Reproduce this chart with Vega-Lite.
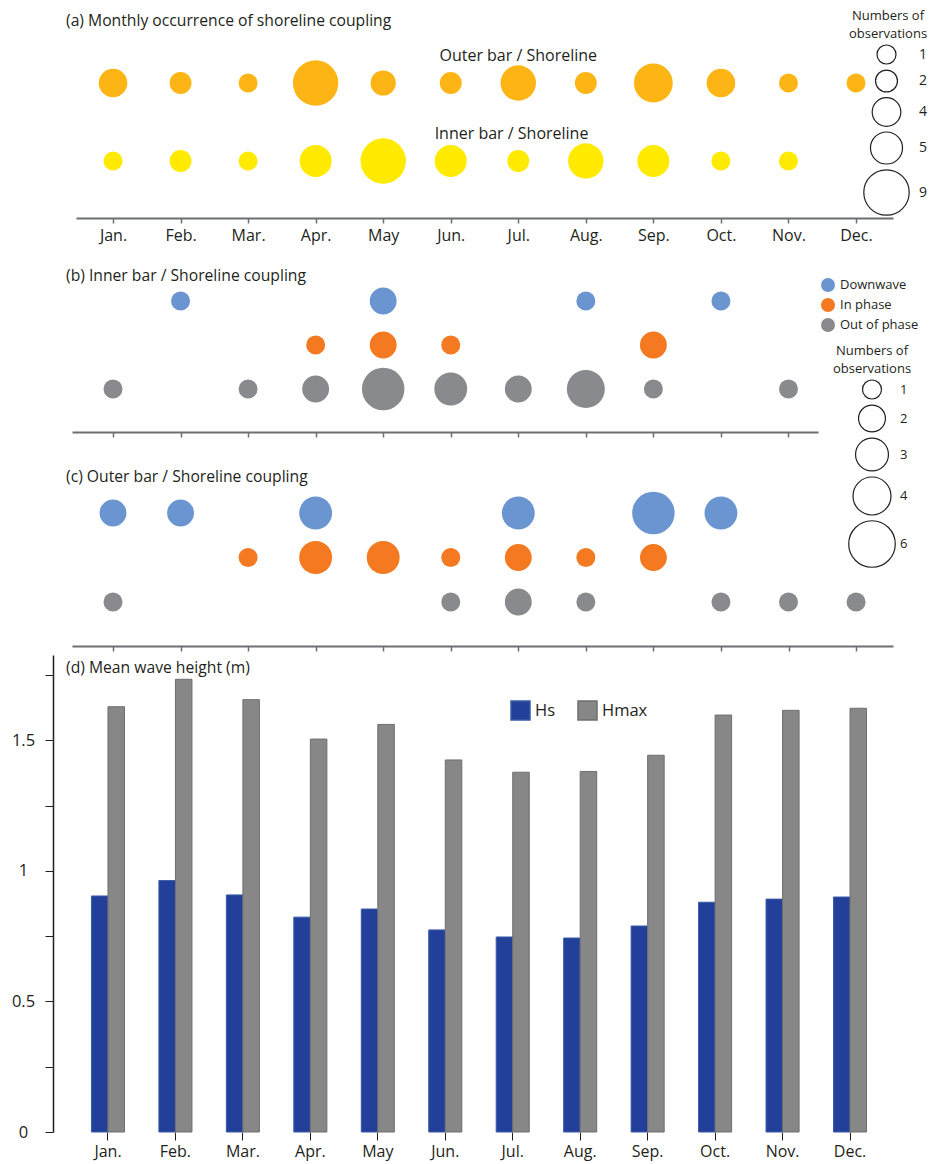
{
  "$schema": "https://vega.github.io/schema/vega-lite/v6.json",
  "padding": {"left": 11, "top": 10, "right": 5, "bottom": 5},
  "background": "white",
  "bounds": "flush",
  "spacing": 0,
  "resolve": {"scale": {"color": "independent", "size": "independent", "stroke": "independent", "x": "independent", "y": "independent"}},
  "config": {
    "view": {"stroke": null},
    "font": "Open Sans",
    "axis": {"grid": false, "labelFont": "Open Sans", "labelColor": "#231f20", "labelFontSize": 16, "domainColor": "#6d6e71", "tickColor": "#6d6e71"},
    "title": {"font": "Open Sans", "fontSize": 15.7, "fontWeight": "normal", "color": "#231f20", "anchor": "start", "frame": "group", "baseline": "middle", "offset": 0},
    "legend": {"labelFont": "Open Sans", "titleFont": "Open Sans", "labelFontSize": 13, "titleFontSize": 13, "titleLineHeight": 18, "titleFontWeight": "normal", "labelColor": "#231f20", "titleColor": "#231f20", "padding": 0}
  },
  "datasets": {
    "occurrence": [
      {"row": "Outer", "m": 1, "month": "Jan.", "n": 4},
      {"row": "Outer", "m": 2, "month": "Feb.", "n": 2},
      {"row": "Outer", "m": 3, "month": "Mar.", "n": 1},
      {"row": "Outer", "m": 4, "month": "Apr.", "n": 9},
      {"row": "Outer", "m": 5, "month": "May", "n": 3},
      {"row": "Outer", "m": 6, "month": "Jun.", "n": 2},
      {"row": "Outer", "m": 7, "month": "Jul.", "n": 6},
      {"row": "Outer", "m": 8, "month": "Aug.", "n": 2},
      {"row": "Outer", "m": 9, "month": "Sep.", "n": 7},
      {"row": "Outer", "m": 10, "month": "Oct.", "n": 4},
      {"row": "Outer", "m": 11, "month": "Nov.", "n": 1},
      {"row": "Outer", "m": 12, "month": "Dec.", "n": 1},
      {"row": "Inner", "m": 1, "month": "Jan.", "n": 1},
      {"row": "Inner", "m": 2, "month": "Feb.", "n": 2},
      {"row": "Inner", "m": 3, "month": "Mar.", "n": 1},
      {"row": "Inner", "m": 4, "month": "Apr.", "n": 5},
      {"row": "Inner", "m": 5, "month": "May", "n": 9},
      {"row": "Inner", "m": 6, "month": "Jun.", "n": 5},
      {"row": "Inner", "m": 7, "month": "Jul.", "n": 2},
      {"row": "Inner", "m": 8, "month": "Aug.", "n": 6},
      {"row": "Inner", "m": 9, "month": "Sep.", "n": 5},
      {"row": "Inner", "m": 10, "month": "Oct.", "n": 1},
      {"row": "Inner", "m": 11, "month": "Nov.", "n": 1}
    ],
    "rowlabels": [
      {"row": "Outer", "m": 7, "label": "Outer bar / Shoreline"},
      {"row": "Inner", "m": 6.9, "label": "Inner bar / Shoreline"}
    ],
    "inner": [
      {"type": "Downwave", "m": 2, "n": 1},
      {"type": "Downwave", "m": 5, "n": 2},
      {"type": "Downwave", "m": 8, "n": 1},
      {"type": "Downwave", "m": 10, "n": 1},
      {"type": "In phase", "m": 4, "n": 1},
      {"type": "In phase", "m": 5, "n": 2},
      {"type": "In phase", "m": 6, "n": 1},
      {"type": "In phase", "m": 9, "n": 2},
      {"type": "Out of phase", "m": 1, "n": 1},
      {"type": "Out of phase", "m": 3, "n": 1},
      {"type": "Out of phase", "m": 4, "n": 2},
      {"type": "Out of phase", "m": 5, "n": 5},
      {"type": "Out of phase", "m": 6, "n": 3},
      {"type": "Out of phase", "m": 7, "n": 2},
      {"type": "Out of phase", "m": 8, "n": 4},
      {"type": "Out of phase", "m": 9, "n": 1},
      {"type": "Out of phase", "m": 11, "n": 1}
    ],
    "outer": [
      {"type": "Downwave", "m": 1, "n": 2},
      {"type": "Downwave", "m": 2, "n": 2},
      {"type": "Downwave", "m": 4, "n": 3},
      {"type": "Downwave", "m": 7, "n": 3},
      {"type": "Downwave", "m": 9, "n": 5},
      {"type": "Downwave", "m": 10, "n": 3},
      {"type": "In phase", "m": 3, "n": 1},
      {"type": "In phase", "m": 4, "n": 3},
      {"type": "In phase", "m": 5, "n": 3},
      {"type": "In phase", "m": 6, "n": 1},
      {"type": "In phase", "m": 7, "n": 2},
      {"type": "In phase", "m": 8, "n": 1},
      {"type": "In phase", "m": 9, "n": 2},
      {"type": "Out of phase", "m": 1, "n": 1},
      {"type": "Out of phase", "m": 6, "n": 1},
      {"type": "Out of phase", "m": 7, "n": 2},
      {"type": "Out of phase", "m": 8, "n": 1},
      {"type": "Out of phase", "m": 10, "n": 1},
      {"type": "Out of phase", "m": 11, "n": 1},
      {"type": "Out of phase", "m": 12, "n": 1}
    ],
    "waves": [
      {"month": "Jan.", "series": "Hs", "value": 0.904},
      {"month": "Feb.", "series": "Hs", "value": 0.963},
      {"month": "Mar.", "series": "Hs", "value": 0.908},
      {"month": "Apr.", "series": "Hs", "value": 0.823},
      {"month": "May", "series": "Hs", "value": 0.854},
      {"month": "Jun.", "series": "Hs", "value": 0.774},
      {"month": "Jul.", "series": "Hs", "value": 0.747},
      {"month": "Aug.", "series": "Hs", "value": 0.743},
      {"month": "Sep.", "series": "Hs", "value": 0.789},
      {"month": "Oct.", "series": "Hs", "value": 0.88},
      {"month": "Nov.", "series": "Hs", "value": 0.892},
      {"month": "Dec.", "series": "Hs", "value": 0.9},
      {"month": "Jan.", "series": "Hmax", "value": 1.629},
      {"month": "Feb.", "series": "Hmax", "value": 1.734},
      {"month": "Mar.", "series": "Hmax", "value": 1.656},
      {"month": "Apr.", "series": "Hmax", "value": 1.505},
      {"month": "May", "series": "Hmax", "value": 1.561},
      {"month": "Jun.", "series": "Hmax", "value": 1.425},
      {"month": "Jul.", "series": "Hmax", "value": 1.378},
      {"month": "Aug.", "series": "Hmax", "value": 1.381},
      {"month": "Sep.", "series": "Hmax", "value": 1.443},
      {"month": "Oct.", "series": "Hmax", "value": 1.597},
      {"month": "Nov.", "series": "Hmax", "value": 1.615},
      {"month": "Dec.", "series": "Hmax", "value": 1.623}
    ]
  },
  "vconcat": [
    {
      "width": 852,
      "height": 208,
      "title": {"text": "(a) Monthly occurrence of shoreline coupling", "dx": 13, "dy": 24},
      "layer": [
        {
          "data": {"name": "occurrence"},
          "mark": {"type": "circle", "opacity": 1},
          "encoding": {
            "x": {"field": "m", "type": "quantitative",
              "scale": {"domain": [0.452, 12.548], "range": [23, 840], "zero": false, "nice": false},
              "axis": {"values": [1,2,3,4,5,6,7,8,9,10,11,12], "labelExpr": "['Jan.','Feb.','Mar.','Apr.','May','Jun.','Jul.','Aug.','Sep.','Oct.','Nov.','Dec.'][datum.value - 1]", "title": null, "domainWidth": 2, "tickWidth": 1.5, "tickSize": 5, "labelPadding": 4}},
            "y": {"field": "row", "type": "nominal", "scale": {"type": "point", "domain": ["Outer", "Inner"], "range": [73, 151], "padding": 0}, "axis": null},
            "color": {"field": "row", "type": "nominal", "scale": {"domain": ["Outer", "Inner"], "range": ["#FDB515", "#FFEA00"]}, "legend": null},
            "size": {"field": "n", "type": "quantitative",
              "scale": {"type": "pow", "exponent": 1.5, "domain": [1, 9], "range": [361, 2061], "zero": false},
              "legend": {"title": ["Numbers of", "observations"], "orient": "none", "legendX": 795, "legendY": 0, "values": [1, 2, 4, 5, 9], "symbolFillColor": "transparent", "symbolStrokeColor": "#231f20", "symbolStrokeWidth": 1.2, "rowPadding": 0, "labelOffset": 9, "symbolOffset": 15, "titleAnchor": "middle", "titleAlign": "center", "titlePadding": 3, "labelFontSize": 14}}
          }
        },
        {
          "data": {"name": "rowlabels"},
          "mark": {"type": "text", "dy": -27, "fontSize": 16, "color": "#231f20"},
          "encoding": {
            "x": {"field": "m", "type": "quantitative",
              "axis": {"values": [1,2,3,4,5,6,7,8,9,10,11,12], "labelExpr": "['Jan.','Feb.','Mar.','Apr.','May','Jun.','Jul.','Aug.','Sep.','Oct.','Nov.','Dec.'][datum.value - 1]", "title": null, "domainWidth": 2, "tickWidth": 1.5, "tickSize": 5, "labelPadding": 4}},
            "y": {"field": "row", "type": "nominal", "axis": null},
            "text": {"field": "label"}
          }
        }
      ]
    },
    {
      "width": 852,
      "height": 214,
      "title": {"text": "(b) Inner bar / Shoreline coupling", "dx": 13, "dy": 71},
      "data": {"name": "inner"},
      "mark": {"type": "circle", "opacity": 1},
      "encoding": {
        "x": {"field": "m", "type": "quantitative",
          "scale": {"domain": [0.393, 11.437], "range": [19, 765], "zero": false, "nice": false},
          "axis": {"values": [1,2,3,4,5,6,7,8,9,10,11], "labels": false, "title": null, "domainWidth": 2, "tickWidth": 1.5, "tickSize": 5}},
        "y": {"field": "type", "type": "nominal", "scale": {"type": "point", "domain": ["Downwave", "In phase", "Out of phase"], "range": [83, 171], "padding": 0}, "axis": null},
        "color": {"field": "type", "type": "nominal",
          "scale": {"domain": ["Downwave", "In phase", "Out of phase"], "range": ["#6A95D0", "#F47920", "#898A8D"]},
          "legend": {"title": null, "orient": "none", "legendX": 767, "legendY": 59, "symbolType": "circle", "symbolSize": 196, "rowPadding": 5, "labelOffset": 4}},
        "size": {"field": "n", "type": "quantitative",
          "scale": {"domain": [0, 6], "range": [0, 2166]},
          "legend": {"title": ["Numbers of", "observations"], "orient": "none", "legendX": 780, "legendY": 127, "values": [1, 2, 3, 4, 6], "symbolFillColor": "transparent", "symbolStrokeColor": "#231f20", "symbolStrokeWidth": 1.2, "rowPadding": 0, "labelOffset": 4, "symbolOffset": 12, "titleAnchor": "middle", "titleAlign": "center", "titlePadding": 3}}
      }
    },
    {
      "width": 852,
      "height": 214,
      "title": {"text": "(c) Outer bar / Shoreline coupling", "dx": 13, "dy": 58},
      "data": {"name": "outer"},
      "mark": {"type": "circle", "opacity": 1},
      "encoding": {
        "x": {"field": "m", "type": "quantitative",
          "scale": {"domain": [0.393, 12.547], "range": [19, 840], "zero": false, "nice": false},
          "axis": {"values": [1,2,3,4,5,6,7,8,9,10,11,12], "labels": false, "title": null, "domainWidth": 2, "tickWidth": 1.5, "tickSize": 5}},
        "y": {"field": "type", "type": "nominal", "scale": {"type": "point", "domain": ["Downwave", "In phase", "Out of phase"], "range": [81, 170], "padding": 0}, "axis": null},
        "color": {"field": "type", "type": "nominal",
          "scale": {"domain": ["Downwave", "In phase", "Out of phase"], "range": ["#6A95D0", "#F47920", "#898A8D"]},
          "legend": null},
        "size": {"field": "n", "type": "quantitative", "scale": {"domain": [0, 6], "range": [0, 2166]}, "legend": null}
      }
    },
    {
      "width": 852,
      "height": 486,
      "title": {"text": "(d) Mean wave height (m)", "dx": 13, "dy": 35},
      "data": {"name": "waves"},
      "mark": {"type": "bar"},
      "encoding": {
        "x": {"field": "month", "type": "nominal",
          "sort": ["Jan.", "Feb.", "Mar.", "Apr.", "May", "Jun.", "Jul.", "Aug.", "Sep.", "Oct.", "Nov.", "Dec."],
          "scale": {"paddingInner": 0.51, "paddingOuter": 0.57},
          "axis": {"title": null, "domain": false, "labelAngle": 0, "tickSize": 8, "tickColor": "#231f20", "tickWidth": 1, "labelPadding": 3, "labelFontSize": 16}},
        "xOffset": {"field": "series", "type": "nominal", "sort": ["Hs", "Hmax"], "scale": {"paddingInner": 0, "paddingOuter": 0}},
        "y": {"field": "value", "type": "quantitative",
          "scale": {"domain": [0, 1.827], "range": [486, 9], "nice": false, "zero": true},
          "axis": {"title": null, "values": [0, 0.25, 0.5, 0.75, 1, 1.25, 1.5, 1.75], "labelExpr": "datum.value % 0.5 === 0 ? format(datum.value, '~g') : ''", "tickSize": 8, "labelPadding": 22, "labelAlign": "center", "labelBaseline": "middle", "domainColor": "#231f20", "tickColor": "#231f20", "domainWidth": 1.5, "labelFontSize": 16.5}},
        "color": {"field": "series", "type": "nominal",
          "scale": {"domain": ["Hs", "Hmax"], "range": ["#22409A", "#878787"]},
          "legend": {"title": null, "orient": "none", "legendX": 457, "legendY": 54, "direction": "horizontal", "symbolType": "square", "symbolSize": 361, "columnPadding": 19, "labelOffset": 4, "labelFontSize": 16.5}},
        "stroke": {"field": "series", "type": "nominal", "scale": {"domain": ["Hs", "Hmax"], "range": ["#3a5aa8", "#6f6f6f"]}, "legend": null}
      }
    }
  ]
}
